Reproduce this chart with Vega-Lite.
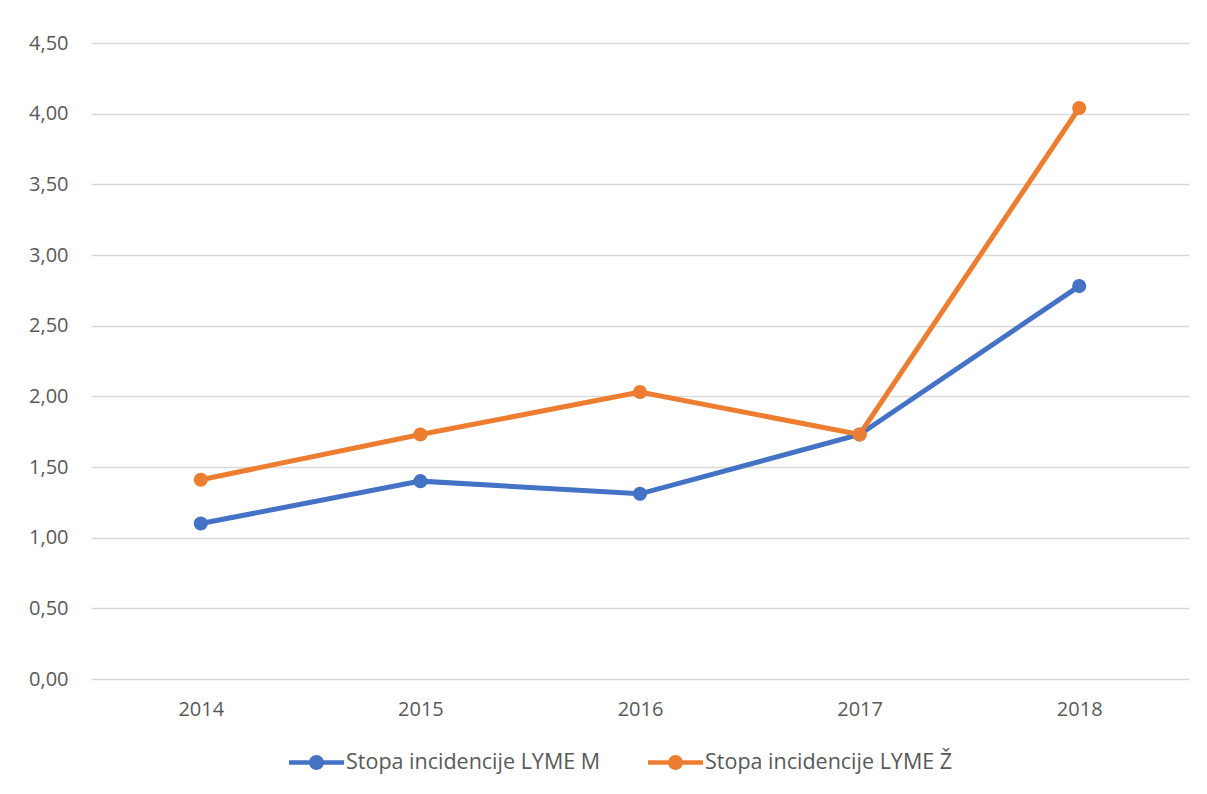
{
  "$schema": "https://vega.github.io/schema/vega-lite/v6.json",
  "width": 1098,
  "height": 636,
  "autosize": {"type": "none"},
  "padding": {"left": 91, "top": 43, "right": 18, "bottom": 115},
  "background": "white",
  "data": {
    "values": [
      {"year": "2014", "series": "Stopa incidencije LYME M", "value": 1.10},
      {"year": "2015", "series": "Stopa incidencije LYME M", "value": 1.40},
      {"year": "2016", "series": "Stopa incidencije LYME M", "value": 1.31},
      {"year": "2017", "series": "Stopa incidencije LYME M", "value": 1.73},
      {"year": "2018", "series": "Stopa incidencije LYME M", "value": 2.78},
      {"year": "2014", "series": "Stopa incidencije LYME Ž", "value": 1.41},
      {"year": "2015", "series": "Stopa incidencije LYME Ž", "value": 1.73},
      {"year": "2016", "series": "Stopa incidencije LYME Ž", "value": 2.03},
      {"year": "2017", "series": "Stopa incidencije LYME Ž", "value": 1.73},
      {"year": "2018", "series": "Stopa incidencije LYME Ž", "value": 4.04}
    ]
  },
  "encoding": {
    "x": {
      "field": "year", "type": "ordinal", "title": null,
      "scale": {"type": "point", "padding": 0.5},
      "axis": {"labelAngle": 0, "ticks": false, "domain": false, "grid": false, "labelPadding": 20, "labelFontSize": 20, "labelColor": "#595959", "labelFont": "Open Sans"}
    },
    "y": {
      "field": "value", "type": "quantitative", "title": null,
      "scale": {"domain": [0, 4.5], "nice": false, "zero": true},
      "axis": {
        "values": [0, 0.5, 1, 1.5, 2, 2.5, 3, 3.5, 4, 4.5],
        "labelExpr": "replace(format(datum.value, '.2f'), '.', ',')",
        "ticks": false, "domain": false, "grid": true, "gridColor": "#d9d9d9", "gridWidth": 1.6,
        "labelPadding": 23, "labelFontSize": 20, "labelColor": "#595959", "labelFont": "Open Sans"
      }
    },
    "color": {
      "field": "series", "type": "nominal",
      "scale": {"domain": ["Stopa incidencije LYME M", "Stopa incidencije LYME Ž"], "range": ["#4472C4", "#ED7D31"]},
      "legend": {
        "title": null, "orient": "none", "direction": "horizontal",
        "legendX": 198, "legendY": 692,
        "symbolType": "M -1 -0.085 L 1 -0.085 L 1 0.085 L -1 0.085 Z M -0.27 0 A 0.27 0.27 0 1 1 0.27 0 A 0.27 0.27 0 1 1 -0.27 0 Z",
        "symbolSize": 3025, "symbolStrokeWidth": 0,
        "labelFontSize": 21.5, "labelColor": "#595959", "labelFont": "Open Sans",
        "labelLimit": 0, "labelOffset": 2, "columnPadding": 47,
        "encode": {"symbols": {"update": {"fill": {"scale": "color", "field": "value"}, "stroke": {"value": "transparent"}, "opacity": {"value": 1}}}}
      }
    }
  },
  "layer": [
    {"mark": {"type": "line", "strokeWidth": 5}},
    {"mark": {"type": "point", "filled": true, "size": 200, "opacity": 1}}
  ],
  "config": {"view": {"stroke": null}}
}
